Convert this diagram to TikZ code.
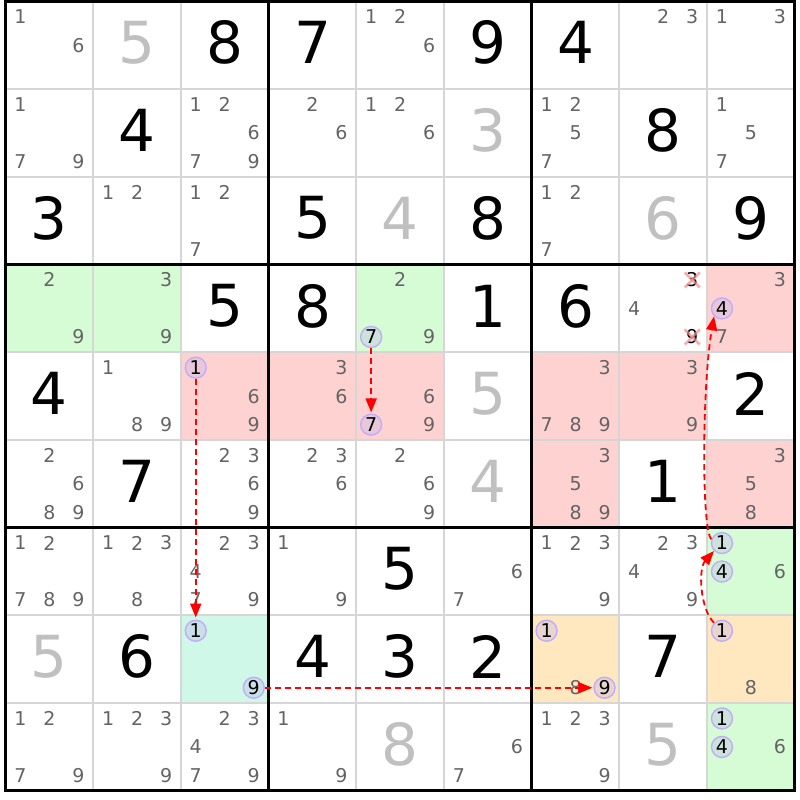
\documentclass[tikz,border=0pt]{standalone}
\usepackage{fontspec}
\setmainfont{DejaVu Sans}
\usetikzlibrary{arrows.meta}
\definecolor{candgray}{RGB}{100,100,100}
\definecolor{solvedgray}{RGB}{192,192,192}
\definecolor{gridgray}{RGB}{214,214,214}
\definecolor{bggreen}{RGB}{214,252,214}
\definecolor{bgred}{RGB}{255,210,210}
\definecolor{bgmint}{RGB}{208,248,232}
\definecolor{bgorange}{RGB}{255,232,192}
\definecolor{ringline}{RGB}{192,172,250}
\definecolor{ringfill}{RGB}{190,180,235}
\definecolor{linkred}{RGB}{255,0,0}
\definecolor{xpink}{RGB}{240,140,140}
\newcommand\cx[1]{5.5+(#1-0.5)*87.7}
\newcommand\cy[1]{798.5-(#1-0.5)*87.7}
\newcommand\candnode[4]{\node[#4] (n#1#2#3) at ({\cx{#2}+(mod(#3-1,3)-1)*29},{\cy{#1}-(int((#3-1)/3)-1)*28.5}) {#3};}
\newcommand\cands[3]{\foreach \cd in {#3}{\candnode{#1}{#2}{\cd}{cand}}}
\newcommand\ccand[3]{\candnode{#1}{#2}{#3}{ringcand}}
\newcommand\xcand[3]{\candnode{#1}{#2}{#3}{crosscand}
  \draw[xmark] ([shift={(-7.5,-7.5)}]n#1#2#3.center) -- ([shift={(7.5,7.5)}]n#1#2#3.center);
  \draw[xmark] ([shift={(-7.5,7.5)}]n#1#2#3.center) -- ([shift={(7.5,-7.5)}]n#1#2#3.center);}
\newcommand\given[3]{\node[givendig] (g#1#2) at ({\cx{#2}},{\cy{#1}+2.5}) {#3};}
\newcommand\solved[3]{\node[solveddig] (g#1#2) at ({\cx{#2}},{\cy{#1}+2.5}) {#3};}
\newcommand\bgcell[3]{\fill[#3] ({\cx{#2}-43.85},{\cy{#1}-43.85}) rectangle ++(87.7,87.7);}
\tikzset{
  cand/.style={text=candgray, font=\fontsize{19}{19}\selectfont, inner sep=0pt},
  crosscand/.style={text=black, font=\fontsize{19}{19}\selectfont, inner sep=0pt},
  ringcand/.style={circle, draw=ringline, line width=1.4pt, fill=ringfill, fill opacity=0.35, text opacity=1, text=black, minimum size=21pt, inner sep=0pt, font=\fontsize{19}{19}\selectfont},
  xmark/.style={draw=xpink, draw opacity=0.7, line width=2.6pt},
  givendig/.style={text=black, font=\fontsize{58}{58}\selectfont, inner sep=0pt},
  solveddig/.style={text=solvedgray, font=\fontsize{58}{58}\selectfont, inner sep=0pt},
  thinline/.style={draw=gridgray, line width=2pt},
  thickline/.style={draw=black, line width=3pt},
  link/.style={draw=linkred, line width=1.8pt, dash pattern=on 6pt off 4pt, -{Triangle[length=14pt,width=11pt]}}
}
\begin{document}
\begin{tikzpicture}[x=1pt,y=1pt]
\useasboundingbox (0,0) rectangle (800,800);
\fill[white] (0,0) rectangle (800,800);
% backgrounds
\bgcell{4}{1}{bggreen}\bgcell{4}{2}{bggreen}\bgcell{4}{5}{bggreen}\bgcell{4}{9}{bgred}
\bgcell{5}{3}{bgred}\bgcell{5}{4}{bgred}\bgcell{5}{5}{bgred}\bgcell{5}{7}{bgred}\bgcell{5}{8}{bgred}
\bgcell{6}{7}{bgred}\bgcell{6}{9}{bgred}
\bgcell{7}{9}{bggreen}\bgcell{9}{9}{bggreen}
\bgcell{8}{3}{bgmint}\bgcell{8}{7}{bgorange}\bgcell{8}{9}{bgorange}
% grid
\foreach \i in {1,2,4,5,7,8}{
  \draw[thinline] ({5.5+\i*87.7},798.5) -- ({5.5+\i*87.7},9.2);
  \draw[thinline] (5.5,{798.5-\i*87.7}) -- (794.8,{798.5-\i*87.7});
}
\foreach \i in {0,3,6,9}{
  \draw[thickline] ({5.5+\i*87.7},800) -- ({5.5+\i*87.7},7.7);
  \draw[thickline] (4,{798.5-\i*87.7}) -- (796.3,{798.5-\i*87.7});
}
% row 1
\cands{1}{1}{1,6}\solved{1}{2}{5}\given{1}{3}{8}\given{1}{4}{7}\cands{1}{5}{1,2,6}
\given{1}{6}{9}\given{1}{7}{4}\cands{1}{8}{2,3}\cands{1}{9}{1,3}
% row 2
\cands{2}{1}{1,7,9}\given{2}{2}{4}\cands{2}{3}{1,2,6,7,9}\cands{2}{4}{2,6}\cands{2}{5}{1,2,6}
\solved{2}{6}{3}\cands{2}{7}{1,2,5,7}\given{2}{8}{8}\cands{2}{9}{1,5,7}
% row 3
\given{3}{1}{3}\cands{3}{2}{1,2}\cands{3}{3}{1,2,7}\given{3}{4}{5}\solved{3}{5}{4}
\given{3}{6}{8}\cands{3}{7}{1,2,7}\solved{3}{8}{6}\given{3}{9}{9}
% row 4
\cands{4}{1}{2,9}\cands{4}{2}{3,9}\given{4}{3}{5}\given{4}{4}{8}\cands{4}{5}{2,9}\ccand{4}{5}{7}
\given{4}{6}{1}\given{4}{7}{6}\cands{4}{8}{4}\xcand{4}{8}{3}\xcand{4}{8}{9}
\cands{4}{9}{3,7}\ccand{4}{9}{4}
% row 5
\given{5}{1}{4}\cands{5}{2}{1,8,9}\ccand{5}{3}{1}\cands{5}{3}{6,9}\cands{5}{4}{3,6}
\ccand{5}{5}{7}\cands{5}{5}{6,9}\solved{5}{6}{5}\cands{5}{7}{3,7,8,9}\cands{5}{8}{3,9}\given{5}{9}{2}
% row 6
\cands{6}{1}{2,6,8,9}\given{6}{2}{7}\cands{6}{3}{2,3,6,9}\cands{6}{4}{2,3,6}\cands{6}{5}{2,6,9}
\solved{6}{6}{4}\cands{6}{7}{3,5,8,9}\given{6}{8}{1}\cands{6}{9}{3,5,8}
% row 7
\cands{7}{1}{1,2,7,8,9}\cands{7}{2}{1,2,3,8}\cands{7}{3}{2,3,4,7,9}\cands{7}{4}{1,9}\given{7}{5}{5}
\cands{7}{6}{6,7}\cands{7}{7}{1,2,3,9}\cands{7}{8}{2,3,4,9}\ccand{7}{9}{1}\ccand{7}{9}{4}\cands{7}{9}{6}
% row 8
\solved{8}{1}{5}\given{8}{2}{6}\ccand{8}{3}{1}\ccand{8}{3}{9}\given{8}{4}{4}\given{8}{5}{3}\given{8}{6}{2}
\ccand{8}{7}{1}\cands{8}{7}{8}\ccand{8}{7}{9}\given{8}{8}{7}\ccand{8}{9}{1}\cands{8}{9}{8}
% row 9
\cands{9}{1}{1,2,7,9}\cands{9}{2}{1,2,3,9}\cands{9}{3}{2,3,4,7,9}\cands{9}{4}{1,9}\solved{9}{5}{8}
\cands{9}{6}{6,7}\cands{9}{7}{1,2,3,9}\solved{9}{8}{5}\ccand{9}{9}{1}\ccand{9}{9}{4}\cands{9}{9}{6}
% links
\draw[link, shorten >=2pt] (n531) -- (n831);
\draw[link, shorten >=1pt] (n457) -- (n557);
\draw[link, shorten >=1pt] (n839) -- (n879);
\draw[link] (n891.135) .. controls +(-14,14) and +(-16,-18) .. (n791.225);
\draw[link] (n791.160) .. controls +(-10,8) and +(-12,-70) .. (n494.225);
\end{tikzpicture}
\end{document}
